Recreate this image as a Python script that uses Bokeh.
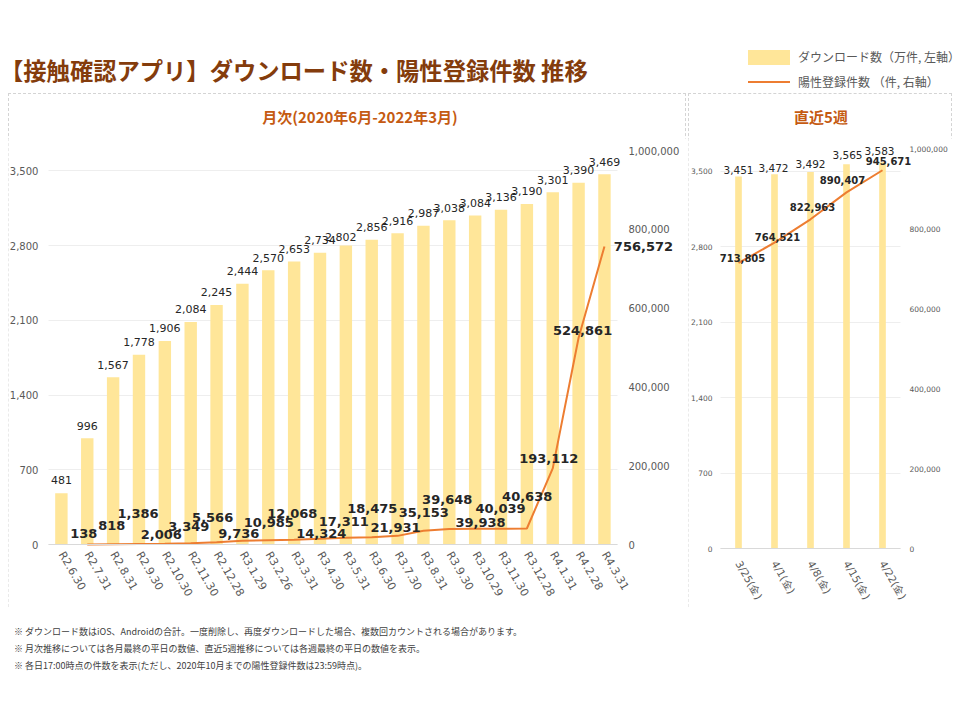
import math
from bokeh.plotting import figure
from bokeh.models import (ColumnDataSource, Range1d, LinearAxis, FixedTicker,
                          NumeralTickFormatter, Div, LabelSet)
from bokeh.layouts import column, row
from bokeh.embed import file_html
from bokeh.resources import INLINE
from bokeh.core.properties import value

# ---------------- data ----------------
months = ["R2.6.30", "R2.7.31", "R2.8.31", "R2.9.30", "R2.10.30", "R2.11.30", "R2.12.28",
          "R3.1.29", "R3.2.26", "R3.3.31", "R3.4.30", "R3.5.31", "R3.6.30", "R3.7.30",
          "R3.8.31", "R3.9.30", "R3.10.29", "R3.11.30", "R3.12.28", "R4.1.31", "R4.2.28",
          "R4.3.31"]
monthly_downloads = [481, 996, 1567, 1778, 1906, 2084, 2245, 2444, 2570, 2653, 2734, 2802,
                     2856, 2916, 2987, 3038, 3084, 3136, 3190, 3301, 3390, 3469]
positive_months = months[1:]
monthly_positive = [138, 818, 1386, 2006, 3349, 5566, 9736, 10985, 12068, 14324, 17311, 18475,
                    21931, 35153, 39648, 39938, 40039, 40638, 193112, 524861, 756572]

weeks = ["3/25(金)", "4/1(金)", "4/8(金)", "4/15(金)", "4/22(金)"]
weekly_downloads = [3451, 3472, 3492, 3565, 3583]
weekly_positive = [713805, 764521, 822963, 890407, 945671]

left_ticks = [0, 700, 1400, 2100, 2800, 3500]
right_ticks = [0, 200000, 400000, 600000, 800000, 1000000]

title_text = "【接触確認アプリ】ダウンロード数・陽性登録件数 推移"
monthly_title = "月次(2020年6月-2022年3月)"
weekly_title = "直近5週"
legend_download = "ダウンロード数（万件, 左軸）"
legend_positive = "陽性登録件数 （件, 右軸）"
notes = [
    "※ ダウンロード数はiOS、Androidの合計。一度削除し、再度ダウンロードした場合、複数回カウントされる場合があります。",
    "※ 月次推移については各月最終の平日の数値、直近5週推移については各週最終の平日の数値を表示。",
    "※ 各日17:00時点の件数を表示(ただし、2020年10月までの陽性登録件数は23:59時点)。",
]

# label placement (screen pixel offsets, positive = right / up; style only)
m_dx = [-3.5, -1.4, -1, -3.5, -1.9, -3.9, -3.6, 0.5, -1.9, 1.3, -2.1, 0.5, -2.1, 0.4, -2.1,
        5.3, -0.5, 0.3, -4, 4, 39]
m_dy = [10.6, 18.7, 30.8, 8.9, 16.7, 24.5, 7.5, 18, 26.5, 5.7, 16.5, 28.4, 8.7,
        18.4, 29.1, 6.6, 19.9, 32, 10, 7, 0]
mb_dx = [0] * 11 + [-5] + [0] * 10
mb_dy = [12.7] * 11 + [8] + [12.7] * 10
w_dx = [4, 3, 2, -4, 6]
w_dy = [5, 5.5, 12, 12.5, 9]
wb_dx = [0, -1, 0, 1, -3]
wb_dy = [7, 6, 8.5, 9.5, 11.5]

BAR = "#FFE699"
LINE = "#ED7D31"
TICK = "#595959"
LBL = "#262626"
NUMF = "DejaVu Sans"
JPF = "Noto Sans CJK JP"


def style_fig(p, n, xfs, yfs, ystand, rstand, xstand, labels_):
    lo, hi = -0.5, n - 0.5
    p.outline_line_color = None
    p.background_fill_color = "white"
    p.border_fill_color = "white"
    p.xgrid.grid_line_color = None
    p.ygrid.grid_line_color = "#eeeeee"
    p.ygrid.ticker = FixedTicker(ticks=left_ticks)
    for g in p.ygrid:
        try:
            g.cross_bounds = (lo, hi)
        except Exception:
            pass
    ya = p.yaxis[0]
    ya.ticker = FixedTicker(ticks=left_ticks)
    ya.formatter = NumeralTickFormatter(format="0,0")
    ya.fixed_location = lo
    ra = LinearAxis(y_range_name="pos", ticker=FixedTicker(ticks=right_ticks),
                    formatter=NumeralTickFormatter(format="0,0"), fixed_location=hi)
    p.add_layout(ra, "right")
    for ax, st in ((ya, ystand), (ra, rstand)):
        ax.axis_line_color = None
        ax.major_tick_line_color = None
        ax.minor_tick_line_color = None
        ax.major_tick_out = 0
        ax.major_tick_in = 0
        ax.minor_tick_out = 0
        ax.major_label_text_font = NUMF
        ax.major_label_text_font_size = yfs
        ax.major_label_text_color = TICK
        ax.major_label_standoff = st
    xa = p.xaxis[0]
    xa.ticker = FixedTicker(ticks=list(range(n)))
    xa.major_label_overrides = {i: s for i, s in enumerate(labels_)}
    xa.bounds = (lo, hi)
    xa.fixed_location = 0
    xa.axis_line_color = "#d9d9d9"
    xa.major_tick_line_color = None
    xa.minor_tick_line_color = None
    xa.major_tick_out = 0
    xa.major_tick_in = 0
    xa.minor_tick_out = 0
    xa.major_label_orientation = -math.pi / 3
    xa.major_label_text_font = NUMF
    xa.major_label_text_font_size = xfs
    xa.major_label_text_color = TICK
    xa.major_label_standoff = xstand


def labels(p, src, size, bold, y_range_name="default"):
    p.add_layout(LabelSet(x="x", y="y", text="t", x_offset="dx", y_offset="dy", source=src,
                          y_range_name=y_range_name, text_align="center",
                          text_baseline="middle", text_font=value(NUMF),
                          text_font_size=value(size),
                          text_font_style=value("bold" if bold else "normal"),
                          text_color=value(LBL)))


# ---------------- monthly chart (canvas 678 x 469, zero line 406px from top) ----------------
mx = list(range(len(months)))
mpx = mx[1:]
u1 = 25.86                     # px per category
x0_1 = -(60.9 - 8) / u1
ky1 = 394 / 3692               # px per download unit
kp1 = 394 / 1000000            # px per positive unit
p1 = figure(frame_width=678, frame_height=469,
            x_range=Range1d(x0_1, x0_1 + 678 / u1),
            y_range=Range1d(-63 / ky1, 406 / ky1), output_backend="svg", toolbar_location=None,
            min_border_left=0, min_border_right=0, min_border_top=0, min_border_bottom=0)
p1.extra_y_ranges = {"pos": Range1d(-63 / kp1, 406 / kp1)}
p1.vbar(x=mx, top=monthly_downloads, width=0.48, fill_color=BAR, line_color=None)
p1.line(x=mpx, y=monthly_positive, y_range_name="pos", line_color=LINE, line_width=2)
src1b = ColumnDataSource(dict(x=mx, y=monthly_downloads,
                              t=[f"{v:,}" for v in monthly_downloads], dx=mb_dx, dy=mb_dy))
labels(p1, src1b, "11px", False)
src1 = ColumnDataSource(dict(x=mpx, y=monthly_positive,
                             t=[f"{v:,}" for v in monthly_positive], dx=m_dx, dy=m_dy))
labels(p1, src1, "13px", True, "pos")
style_fig(p1, len(months), "11px", "10px", 10, 11, 8, months)

# ---------------- weekly chart (canvas 264 x 469, zero line 410px from top) ----------------
wx = list(range(len(weeks)))
u2 = 36.0
x0_2 = -(738 - 688) / u2
ky2 = 400 / 3711
kp2 = 400 / 1000000
p2 = figure(frame_width=264, frame_height=469,
            x_range=Range1d(x0_2, x0_2 + 264 / u2),
            y_range=Range1d(-59 / ky2, 410 / ky2), output_backend="svg", toolbar_location=None,
            min_border_left=0, min_border_right=0, min_border_top=0, min_border_bottom=0)
p2.extra_y_ranges = {"pos": Range1d(-59 / kp2, 410 / kp2)}
p2.vbar(x=wx, top=weekly_downloads, width=0.185, fill_color=BAR, line_color=None)
p2.line(x=wx, y=weekly_positive, y_range_name="pos", line_color=LINE, line_width=2)
src2b = ColumnDataSource(dict(x=wx, y=weekly_downloads,
                              t=[f"{v:,}" for v in weekly_downloads], dx=wb_dx, dy=wb_dy))
labels(p2, src2b, "10.5px", False)
src2 = ColumnDataSource(dict(x=wx, y=weekly_positive,
                             t=[f"{v:,}" for v in weekly_positive], dx=w_dx, dy=w_dy))
labels(p2, src2, "10px", True, "pos")
style_fig(p2, len(weeks), "10.5px", "7.5px", 8, 9, 13, weeks)

# ---------------- html pieces ----------------
header = Div(width=944, height=85, margin=(0, 0, 0, 0), text=f"""
<div style="position:relative;width:944px;height:85px;">
  <div style="position:absolute;left:-8px;top:50px;font-family:'{JPF}';font-weight:bold;font-size:23.3px;line-height:24px;color:#843C0C;white-space:nowrap;">{title_text}</div>
  <div style="position:absolute;left:740px;top:42px;width:42px;height:15px;background:{BAR};"></div>
  <div style="position:absolute;left:790px;top:41px;font-family:'{JPF}';font-size:12px;line-height:16px;color:{TICK};white-space:nowrap;">{legend_download}</div>
  <div style="position:absolute;left:740px;top:73px;width:42px;height:2px;background:{LINE};"></div>
  <div style="position:absolute;left:790px;top:66px;font-family:'{JPF}';font-size:12px;line-height:16px;color:{TICK};white-space:nowrap;">{legend_positive}</div>
</div>""")


def title_div(text, width, cx):
    return Div(width=width, height=45, margin=(0, 0, 0, 0), text=f"""
<div style="position:relative;width:{width}px;height:45px;">
  <div style="position:absolute;left:{cx}px;top:15px;transform:translateX(-50%);font-family:'{JPF}';font-weight:bold;font-size:15px;line-height:18px;color:#C55A11;white-space:nowrap;">{text}</div>
</div>""")


panel_style = {"outline": "1px dashed #d4d4d4", "outline-offset": "-1px"}
left_panel = column(title_div(monthly_title, 678, 352), p1, spacing=0, styles=panel_style)
right_panel = column(title_div(weekly_title, 264, 133), p2, spacing=0, styles=panel_style)
charts = row(left_panel, right_panel, spacing=2)

note_lines = "".join(
    f'<div style="position:absolute;left:6px;top:{16 + 17 * i}px;font-family:\'{JPF}\';font-size:9px;line-height:17px;color:#404040;white-space:nowrap;">{t}</div>'
    for i, t in enumerate(notes))
footer = Div(width=944, height=93, margin=(0, 0, 0, 0),
             text=f'<div style="position:relative;width:944px;height:93px;">{note_lines}</div>')

layout = column(header, charts, footer, spacing=0, margin=(8, 8, 8, 8))
open("out.html", "w").write(file_html(layout, INLINE))
